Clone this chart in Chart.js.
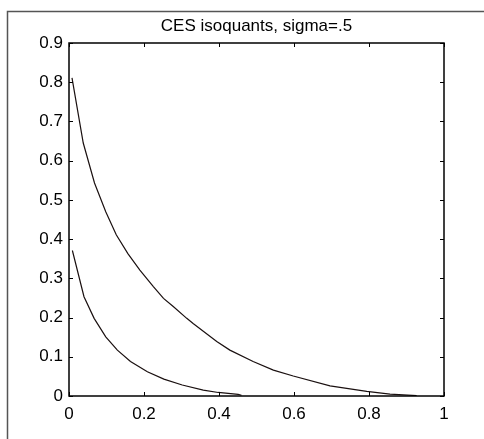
<!DOCTYPE html>
<html>
<head>
<meta charset="utf-8">
<script src="https://cdn.jsdelivr.net/npm/chart.js@4/dist/chart.umd.min.js"></script>
<style>
  html, body { margin: 0; padding: 0; background: #fff; }
  #wrap { width: 484px; height: 439px; position: relative; }
</style>
</head>
<body>
<div id="wrap"><canvas id="cesChart"></canvas></div>
<script>
const chartTitle = 'CES isoquants, sigma=.5';

// outer isoquant
const outerX = [0.008, 0.038, 0.068, 0.098, 0.126, 0.157, 0.189, 0.225, 0.252, 0.278, 0.314, 0.331, 0.394, 0.429, 0.491, 0.545, 0.598, 0.696, 0.794, 0.856, 0.927];
const outerY = [0.811, 0.645, 0.543, 0.470, 0.411, 0.363, 0.321, 0.279, 0.249, 0.228, 0.198, 0.185, 0.139, 0.117, 0.088, 0.066, 0.051, 0.026, 0.012, 0.005, 0.001];

// inner isoquant
const innerX = [0.009, 0.040, 0.067, 0.098, 0.129, 0.164, 0.209, 0.253, 0.302, 0.358, 0.398, 0.451, 0.460];
const innerY = [0.371, 0.253, 0.198, 0.151, 0.117, 0.088, 0.062, 0.043, 0.028, 0.015, 0.009, 0.004, 0.002];

const xTicks = [0, 0.2, 0.4, 0.6, 0.8, 1];
const yTicks = [0, 0.1, 0.2, 0.3, 0.4, 0.5, 0.6, 0.7, 0.8, 0.9];

const toPoints = (xs, ys) => xs.map((x, i) => ({ x: x, y: ys[i] }));

const FONT = 'Liberation Sans, Arial, sans-serif';

// box, inward ticks, title and the outer figure frame (matlab look)
const matlabBox = {
    id: 'matlabBox',
    afterDraw(chart) {
        const ctx = chart.ctx;
        const a = chart.chartArea;
        const xs = chart.scales.x, ys = chart.scales.y;
        ctx.save();

        // figure frame
        ctx.strokeStyle = '#555';
        ctx.lineWidth = 1.5;
        ctx.beginPath();
        ctx.moveTo(7.5, 439);
        ctx.lineTo(7.5, 11.5);
        ctx.lineTo(484, 11.5);
        ctx.stroke();

        ctx.strokeStyle = '#000';
        ctx.lineWidth = 1;
        const tl = 4;
        ctx.beginPath();
        xTicks.forEach(v => {
            const px = Math.round(xs.getPixelForValue(v)) + 0.5;
            ctx.moveTo(px, a.bottom); ctx.lineTo(px, a.bottom - tl);
            ctx.moveTo(px, a.top); ctx.lineTo(px, a.top + tl);
        });
        yTicks.forEach(v => {
            const py = Math.round(ys.getPixelForValue(v)) + 0.5;
            ctx.moveTo(a.left, py); ctx.lineTo(a.left + tl, py);
            ctx.moveTo(a.right, py); ctx.lineTo(a.right - tl, py);
        });
        ctx.stroke();

        ctx.lineWidth = 1.5;
        ctx.strokeRect(a.left, a.top, a.right - a.left, a.bottom - a.top);

        ctx.fillStyle = '#000';
        ctx.font = '17px ' + FONT;
        ctx.textAlign = 'center';
        ctx.textBaseline = 'middle';
        ctx.fillText(chartTitle, (a.left + a.right) / 2, 26);
        ctx.restore();
    }
};

new Chart(document.getElementById('cesChart'), {
    type: 'scatter',
    data: {
        datasets: [
            {
                label: 'outer',
                data: toPoints(outerX, outerY),
                showLine: true,
                borderColor: '#1a1010',
                borderWidth: 1.2,
                pointRadius: 0,
                fill: false,
                tension: 0
            },
            {
                label: 'inner',
                data: toPoints(innerX, innerY),
                showLine: true,
                borderColor: '#1a1010',
                borderWidth: 1.2,
                pointRadius: 0,
                fill: false,
                tension: 0
            }
        ]
    },
    options: {
        responsive: true,
        maintainAspectRatio: false,
        animation: false,
        events: [],
        layout: { padding: { left: 0, right: 40, top: 43, bottom: 0 } },
        plugins: {
            legend: { display: false },
            tooltip: { enabled: false }
        },
        scales: {
            x: {
                type: 'linear',
                min: 0,
                max: 1,
                afterFit: s => { s.height = 43; },
                afterBuildTicks: s => { s.ticks = xTicks.map(v => ({ value: v })); },
                grid: { display: false, drawTicks: false },
                border: { display: false },
                ticks: {
                    color: '#000',
                    padding: 8,
                    maxRotation: 0,
                    font: { family: FONT, size: 17 },
                    callback: v => String(v)
                }
            },
            y: {
                type: 'linear',
                min: 0,
                max: 0.9,
                afterFit: s => { s.width = 69; },
                afterBuildTicks: s => { s.ticks = yTicks.map(v => ({ value: v })); },
                grid: { display: false, drawTicks: false },
                border: { display: false },
                ticks: {
                    color: '#000',
                    padding: 6,
                    font: { family: FONT, size: 17 },
                    callback: v => String(v)
                }
            }
        }
    },
    plugins: [matlabBox]
});
</script>
</body>
</html>
